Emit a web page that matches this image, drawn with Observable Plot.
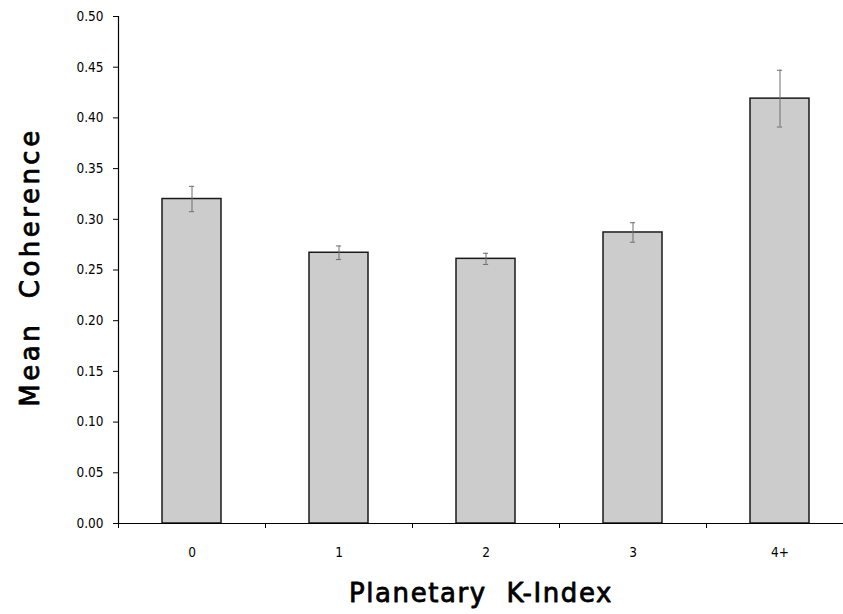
<!DOCTYPE html>
<html>
<head>
<meta charset="utf-8">
<script src="https://cdn.jsdelivr.net/npm/d3@7"></script>
<script src="https://cdn.jsdelivr.net/npm/@observablehq/plot@0.6"></script>
<style>
  html, body { margin: 0; padding: 0; background: #fff; }
  #chart svg { display: block; }
  #chart text.y-title { letter-spacing: 3.5px; }
  #chart text.x-title { letter-spacing: 1.6px; }
</style>
</head>
<body>
<div id="chart"></div>
<script>
// Mean coherence by planetary K-index, with standard-error bars
const kIndex = ["0", "1", "2", "3", "4+"];
const meanCoherence = [0.320, 0.267, 0.261, 0.287, 0.419];
const stdError = [0.0125, 0.0067, 0.0055, 0.0096, 0.028];
const yTicks = [0, 0.05, 0.10, 0.15, 0.20, 0.25, 0.30, 0.35, 0.40, 0.45, 0.50];
const yLabel = "Mean  Coherence";
const xLabel = "Planetary  K-Index";

const rows = kIndex.map((k, i) => ({
  k,
  mean: meanCoherence[i],
  lo: meanCoherence[i] - stdError[i],
  hi: meanCoherence[i] + stdError[i]
}));

const width = 843, height = 614;
const left = 118;
const step = 147;                       // one category slot, in pixels
const xRange = [left, left + step * kIndex.length];
const capHalf = 2.5;
const inset = (step * 0.4) / 2 - capHalf;

const tickFont = "'Liberation Sans Narrow', 'DejaVu Sans Condensed', 'Liberation Sans', sans-serif";
const titleStyle = {
  fontFamily: "'DejaVu Sans', sans-serif",
  fontWeight: "normal",
  fontSize: 26,
  fill: "#000",
  stroke: "#000",
  strokeWidth: 0.8
};

const chart = Plot.plot({
  width, height,
  marginLeft: left,
  marginRight: 0,
  marginTop: 16,
  marginBottom: 91,
  style: { fontFamily: tickFont, fontSize: "13.5px", color: "#000", background: "#fff" },
  x: { domain: kIndex, range: xRange, paddingInner: 0.6, paddingOuter: 0.3, axis: null },
  y: { domain: [0, 0.5], axis: null },
  marks: [
    Plot.barY(rows, { x: "k", y: "mean", fill: "#cccccc", stroke: "#1a1a1a", strokeWidth: 1.5 }),
    Plot.ruleX(rows, { x: "k", y1: "lo", y2: "hi", stroke: "#6e6e6e", strokeWidth: 1 }),
    Plot.tickY(rows, { x: "k", y: "hi", stroke: "#6e6e6e", strokeWidth: 1, insetLeft: inset, insetRight: inset }),
    Plot.tickY(rows, { x: "k", y: "lo", stroke: "#6e6e6e", strokeWidth: 1, insetLeft: inset, insetRight: inset }),
    // axis lines
    Plot.ruleY([0], { stroke: "#000", strokeWidth: 1.2 }),
    Plot.frame({ anchor: "left", stroke: "#000", strokeWidth: 1.2 }),
    // y axis ticks and labels
    Plot.axisY({
      ticks: yTicks,
      tickSize: 5,
      tickPadding: 10,
      tickFormat: d3.format(".2f"),
      label: null,
      fontSize: 13.5
    }),
    // x labels at category centres
    Plot.axisX({ tickSize: 0, tickPadding: 24, label: null, fontSize: 13.5 }),
    // x tick marks on the boundaries between categories
    Plot.axisX({ tickSize: 5, tickFormat: () => "", label: null, dx: -step / 2 }),
    // axis titles
    Plot.text([yLabel], {
      text: d => d, frameAnchor: "left", textAnchor: "middle", rotate: -90, dx: -88, dy: -3,
      ...titleStyle
    }),
    Plot.text([xLabel], {
      text: d => d, frameAnchor: "bottom", textAnchor: "middle", dy: 78,
      ...titleStyle
    })
  ]
});

// tag the two axis titles so the stylesheet can space their letters
d3.select(chart).selectAll("text")
  .filter(function () { return this.textContent === yLabel; })
  .classed("y-title", true);
d3.select(chart).selectAll("text")
  .filter(function () { return this.textContent === xLabel; })
  .classed("x-title", true);

document.getElementById("chart").appendChild(chart);
</script>
</body>
</html>
